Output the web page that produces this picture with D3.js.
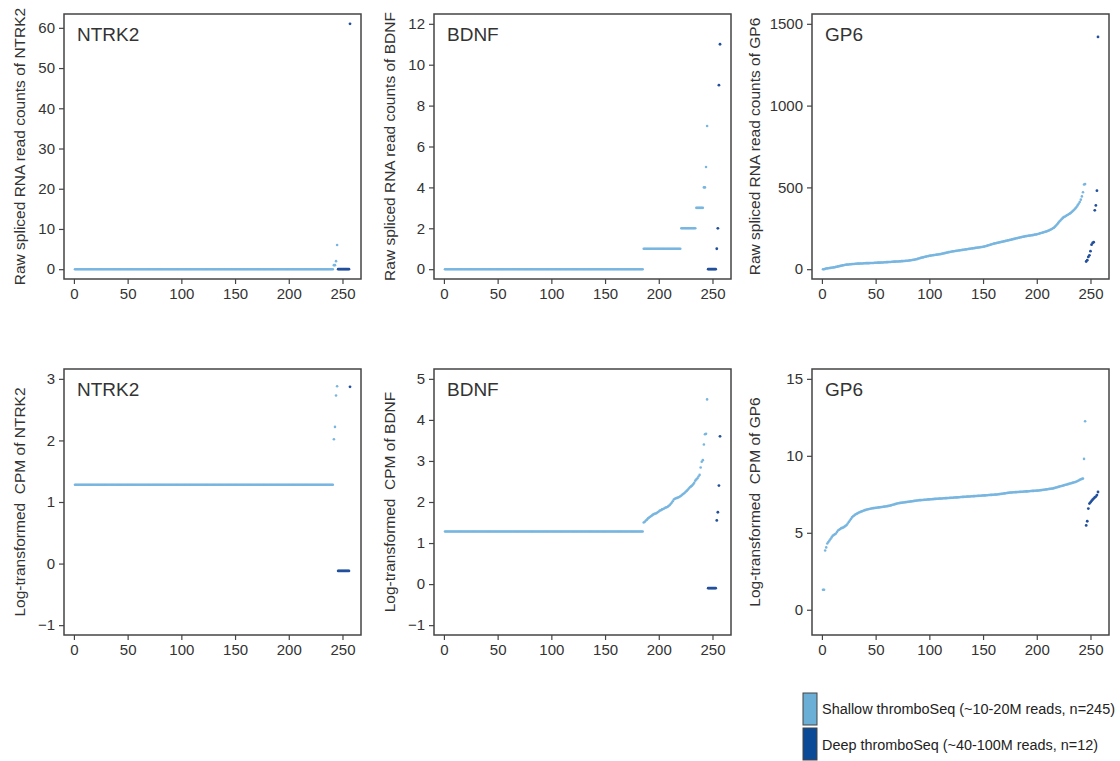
<!DOCTYPE html>
<html>
<head>
<meta charset="utf-8">
<script src="https://cdn.jsdelivr.net/npm/d3@7"></script>
<style>
  body { margin: 0; background: #fff; }
  svg { font-family: "Liberation Sans", Arial, sans-serif; }
  .box { fill: none; stroke: #444; stroke-width: 1.5; }
  .tick-label { fill: #333; font-size: 15px; }
  .axis-title { fill: #333; font-size: 15.5px; white-space: pre; }
  .gene { fill: #333; font-size: 19px; }
</style>
</head>
<body>
<div id="chart"></div>
<script>
// expand [value, count] runs into a flat list of values
function rle(runs) {
  var out = [];
  runs.forEach(function(r) { for (var i = 0; i < r[1]; i++) out.push(r[0]); });
  return out;
}

var genes = ["NTRK2", "BDNF", "GP6"];
var rawLabels = ["Raw spliced RNA read counts of NTRK2", "Raw spliced RNA read counts of BDNF", "Raw spliced RNA read counts of GP6"];
var cpmLabels = ["Log-transformed  CPM of NTRK2", "Log-transformed  CPM of BDNF", "Log-transformed  CPM of GP6"];
var legendLabels = ["Shallow thromboSeq (~10-20M reads, n=245)", "Deep thromboSeq (~40-100M reads, n=12)"];

var xTicks = [0, 50, 100, 150, 200, 250];
var rawTicks = [[0, 10, 20, 30, 40, 50, 60], [0, 2, 4, 6, 8, 10, 12], [0, 500, 1000, 1500]];
var cpmTicks = [[-1, 0, 1, 2, 3], [-1, 0, 1, 2, 3, 4, 5], [0, 5, 10, 15]];
var rawLims = [[0, 61], [0, 12], [0, 1500]];
var cpmLims = [[-1, 3], [-1, 5], [-1, 15]];

// ---- raw counts, shallow (n=245) and deep (n=12), each sorted ----
var ntrk2RawShallow = rle([[0, 241], [1, 2], [2, 1], [6, 1]]);
var ntrk2RawDeep = rle([[0, 11], [61, 1]]);

var bdnfRawShallow = rle([[0, 185], [1, 35], [2, 14], [3, 7], [4, 2], [5, 1], [7, 1]]);
var bdnfRawDeep = rle([[0, 8], [1, 1], [2, 1], [9, 1], [11, 1]]);

var gp6RawShallow = [
  0, 0, 2, 4, 5, 6, 7, 8, 9, 10,
  11, 12, 14, 15, 17, 18, 20, 21, 23, 24,
  26, 27, 28, 28, 29, 30, 30, 31, 32, 32,
  33, 33, 34, 34, 34, 35, 35, 35, 36, 36,
  37, 37, 37, 37, 38, 38, 38, 38, 39, 39,
  39, 40, 40, 40, 41, 41, 41, 42, 42, 43,
  43, 44, 44, 44, 45, 45, 46, 46, 47, 47,
  47, 48, 48, 49, 49, 50, 50, 51, 52, 52,
  53, 54, 55, 56, 57, 58, 60, 61, 63, 65,
  67, 69, 71, 72, 74, 76, 77, 79, 80, 82,
  83, 84, 85, 86, 87, 88, 89, 90, 91, 92,
  93, 95, 96, 98, 99, 101, 102, 104, 105, 107,
  108, 109, 110, 111, 112, 113, 114, 115, 116, 117,
  118, 119, 120, 121, 122, 123, 124, 125, 126, 127,
  128, 129, 130, 131, 132, 133, 134, 135, 136, 137,
  138, 140, 142, 144, 146, 148, 150, 152, 154, 156,
  158, 159, 161, 162, 164, 165, 167, 168, 170, 171,
  173, 174, 176, 177, 179, 180, 182, 184, 185, 187,
  189, 190, 192, 193, 195, 196, 198, 199, 201, 202,
  203, 204, 205, 206, 207, 208, 209, 211, 212, 213,
  215, 217, 219, 221, 223, 225, 227, 229, 231, 233,
  236, 239, 242, 246, 250, 254, 260, 267, 275, 283,
  291, 298, 305, 312, 318, 321, 325, 329, 333, 337,
  341, 346, 352, 358, 365, 372, 380, 390, 400, 410,
  425, 445, 470, 518, 520
];
var gp6RawDeep = [47, 55, 75, 85, 110, 150, 160, 165, 360, 390, 480, 1420];

// ---- log-transformed CPM ----
var ntrk2CpmShallow = rle([[1.28, 241], [2.02, 1], [2.22, 1], [2.73, 1], [2.88, 1]]);
var ntrk2CpmDeep = rle([[-0.12, 11], [2.87, 1]]);

var bdnfCpmShallow = rle([[1.28, 185]]).concat([
  1.5, 1.52, 1.55, 1.57, 1.6, 1.62, 1.64, 1.66, 1.68, 1.7,
  1.71, 1.72, 1.73, 1.75, 1.77, 1.79, 1.8, 1.82, 1.83, 1.84,
  1.86, 1.87, 1.88, 1.9, 1.92, 1.95, 1.98, 2.02, 2.06, 2.08,
  2.09, 2.1, 2.11, 2.12, 2.14, 2.16, 2.18, 2.2, 2.22, 2.25,
  2.27, 2.3, 2.33, 2.36, 2.38, 2.4, 2.43, 2.47, 2.52, 2.55,
  2.58, 2.62, 2.66, 2.84, 2.98, 3.02, 3.4, 3.65, 3.66, 4.5
]);
var bdnfCpmDeep = rle([[-0.1, 8], [1.55, 1], [1.75, 1], [2.4, 1], [3.6, 1]]);

var gp6CpmShallow = [
  1.3, 1.3, 3.85, 4.05, 4.3, 4.4, 4.5, 4.6, 4.7, 4.8,
  4.85, 4.9, 4.95, 5.05, 5.15, 5.2, 5.25, 5.3, 5.32, 5.35,
  5.4, 5.45, 5.5, 5.6, 5.7, 5.8, 5.9, 6.0, 6.07, 6.12,
  6.18, 6.22, 6.26, 6.3, 6.33, 6.36, 6.39, 6.42, 6.45, 6.47,
  6.49, 6.51, 6.53, 6.55, 6.56, 6.58, 6.59, 6.6, 6.61, 6.62,
  6.63, 6.64, 6.65, 6.66, 6.67, 6.68, 6.69, 6.7, 6.71, 6.72,
  6.73, 6.75, 6.76, 6.78, 6.8, 6.82, 6.84, 6.86, 6.88, 6.9,
  6.92, 6.93, 6.94, 6.95, 6.96, 6.97, 6.98, 6.99, 7.0, 7.01,
  7.02, 7.03, 7.04, 7.05, 7.06, 7.07, 7.08, 7.09, 7.1, 7.11,
  7.12, 7.12, 7.13, 7.13, 7.14, 7.15, 7.15, 7.16, 7.17, 7.17,
  7.18, 7.18, 7.19, 7.19, 7.2, 7.2, 7.21, 7.21, 7.22, 7.22,
  7.23, 7.23, 7.24, 7.24, 7.25, 7.25, 7.26, 7.26, 7.27, 7.27,
  7.28, 7.28, 7.29, 7.29, 7.3, 7.3, 7.31, 7.31, 7.32, 7.32,
  7.33, 7.33, 7.34, 7.34, 7.35, 7.35, 7.36, 7.36, 7.37, 7.37,
  7.38, 7.38, 7.39, 7.39, 7.4, 7.4, 7.41, 7.41, 7.42, 7.42,
  7.43, 7.43, 7.44, 7.44, 7.45, 7.45, 7.46, 7.46, 7.47, 7.47,
  7.48, 7.48, 7.49, 7.5, 7.51, 7.52, 7.53, 7.54, 7.55, 7.56,
  7.57, 7.58, 7.59, 7.6, 7.61, 7.62, 7.62, 7.63, 7.63, 7.64,
  7.64, 7.65, 7.65, 7.66, 7.66, 7.67, 7.67, 7.68, 7.68, 7.69,
  7.69, 7.7, 7.7, 7.71, 7.71, 7.72, 7.72, 7.73, 7.73, 7.74,
  7.74, 7.75, 7.76, 7.77, 7.78, 7.79, 7.8, 7.81, 7.82, 7.83,
  7.84, 7.85, 7.86, 7.87, 7.88, 7.9, 7.92, 7.94, 7.96, 7.98,
  8.0, 8.02, 8.04, 8.06, 8.08, 8.1, 8.12, 8.14, 8.16, 8.18,
  8.2, 8.22, 8.24, 8.26, 8.28, 8.3, 8.33, 8.36, 8.4, 8.44,
  8.47, 8.5, 8.52, 9.8, 12.25
];
var gp6CpmDeep = [5.48, 5.75, 6.57, 6.9, 6.98, 7.07, 7.15, 7.22, 7.3, 7.35, 7.45, 7.65];

var rawShallow = [ntrk2RawShallow, bdnfRawShallow, gp6RawShallow];
var rawDeep = [ntrk2RawDeep, bdnfRawDeep, gp6RawDeep];
var cpmShallow = [ntrk2CpmShallow, bdnfCpmShallow, gp6CpmShallow];
var cpmDeep = [ntrk2CpmDeep, bdnfCpmDeep, gp6CpmDeep];

var colShallow = "#78b6e0";
var colDeep = "#22509c";

// layout
var W = 1120, H = 761;
var colLeft = [64, 434, 812];
var plotW = 297;
var rowTop = [14, 369];
var plotH = [265, 266];
var titleOffset = [44, 44, 57];

var svg = d3.select("#chart").append("svg")
  .attr("width", W)
  .attr("height", H);

// R style: extend limits by 4% on each side
function pad(lim) {
  var d = (lim[1] - lim[0]) * 0.04;
  return [lim[0] - d, lim[1] + d];
}

function styleAxis(a) {
  a.select(".domain").remove();
  a.attr("font-family", null).attr("font-size", null);
  a.selectAll(".tick line").attr("stroke", "#444").attr("stroke-width", 1.2);
  a.selectAll(".tick text").attr("class", "tick-label").attr("fill", null);
}

function drawPanel(row, col, gene, label, shallow, deep, lim, ticks) {
  var g = svg.append("g")
    .attr("transform", "translate(" + colLeft[col] + "," + rowTop[row] + ")");
  var h = plotH[row];

  var shallowPts = shallow.map(function(v, i) { return {x: i + 1, y: v}; });
  var deepPts = deep.map(function(v, i) { return {x: shallow.length + i + 1, y: v}; });

  var x = d3.scaleLinear()
    .domain(pad([1, shallow.length + deep.length]))
    .range([0, plotW]);
  var y = d3.scaleLinear()
    .domain(pad(lim))
    .range([h, 0]);

  // x axis
  var xa = g.append("g")
    .attr("transform", "translate(0," + h + ")")
    .call(d3.axisBottom(x).tickValues(xTicks).tickFormat(d3.format("d")).tickSize(5).tickPadding(4));
  styleAxis(xa);

  // y axis
  var ya = g.append("g")
    .call(d3.axisLeft(y).tickValues(ticks).tickFormat(d3.format("d")).tickSize(5).tickPadding(4));
  styleAxis(ya);

  // points
  g.selectAll(".shallow")
    .data(shallowPts)
    .enter().append("circle")
    .attr("class", "shallow")
    .attr("r", 1.3)
    .attr("cx", function(d) { return x(d.x); })
    .attr("cy", function(d) { return y(d.y); })
    .attr("fill", colShallow);

  g.selectAll(".deep")
    .data(deepPts)
    .enter().append("circle")
    .attr("class", "deep")
    .attr("r", 1.4)
    .attr("cx", function(d) { return x(d.x); })
    .attr("cy", function(d) { return y(d.y); })
    .attr("fill", colDeep);

  // box
  g.append("rect")
    .attr("class", "box")
    .attr("width", plotW)
    .attr("height", h);

  // gene name
  g.append("text")
    .attr("class", "gene")
    .attr("x", 13)
    .attr("y", 27)
    .text(gene);

  // y title
  g.append("text")
    .attr("class", "axis-title")
    .attr("transform", "translate(" + (-titleOffset[col]) + "," + (h / 2) + ") rotate(-90)")
    .attr("text-anchor", "middle")
    .attr("dy", "0.35em")
    .text(label);
}

genes.forEach(function(gene, i) {
  drawPanel(0, i, gene, rawLabels[i], rawShallow[i], rawDeep[i], rawLims[i], rawTicks[i]);
  drawPanel(1, i, gene, cpmLabels[i], cpmShallow[i], cpmDeep[i], cpmLims[i], cpmTicks[i]);
});

// legend
var legendColors = ["#6baed6", "#0b4a96"];
var legendLen = [293, 276];
var legend = svg.append("g").attr("transform", "translate(803,693)");
legendLabels.forEach(function(lab, i) {
  legend.append("rect")
    .attr("x", 0)
    .attr("y", i * 35)
    .attr("width", 14)
    .attr("height", 32)
    .attr("fill", legendColors[i])
    .attr("stroke", "#444")
    .attr("stroke-width", 1);
  legend.append("text")
    .attr("x", 19)
    .attr("y", i * 36 + 16)
    .attr("dy", "0.35em")
    .attr("font-size", 14)
    .attr("fill", "#222")
    .attr("textLength", legendLen[i])
    .attr("lengthAdjust", "spacingAndGlyphs")
    .text(lab);
});
</script>
</body>
</html>
